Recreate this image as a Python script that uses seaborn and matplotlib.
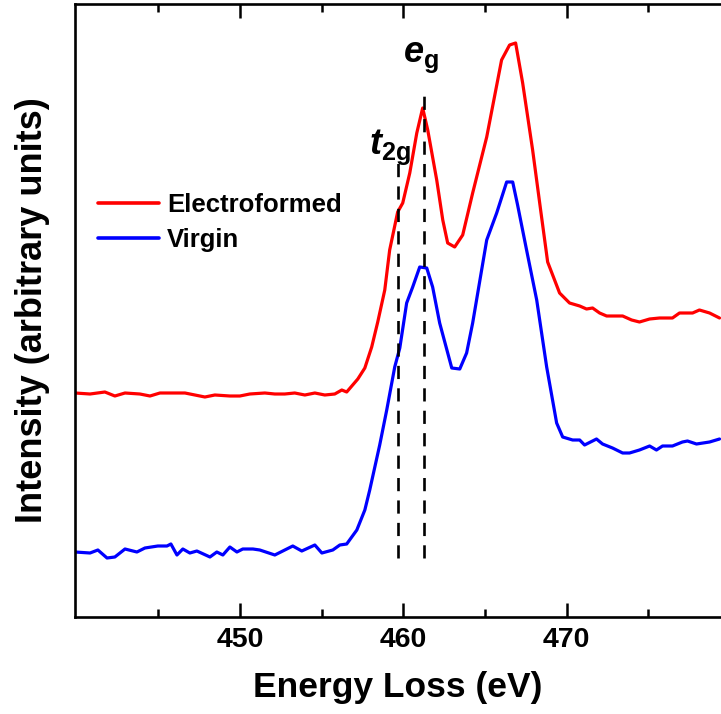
import numpy as np
import pandas as pd
import matplotlib
matplotlib.use("Agg")
import matplotlib.pyplot as plt
from matplotlib.lines import Line2D
from matplotlib.ticker import FixedLocator, NullFormatter
import seaborn as sns

# ---------------- data ----------------
electro_energy = [439.91, 440.83, 441.74, 442.35, 442.97, 443.88, 444.50, 445.11, 446.02, 446.64,
                  447.25, 447.86, 448.47, 449.39, 450.00, 450.61, 451.53, 452.14, 452.75, 453.36,
                  453.98, 454.59, 455.20, 455.81, 456.24, 456.54, 457.22, 457.65, 458.07, 458.44,
                  458.87, 459.17, 459.66, 459.97, 460.40, 460.83, 461.19, 461.50, 462.05, 462.42,
                  462.72, 463.15, 463.64, 464.25, 465.11, 466.02, 466.51, 466.88, 467.31, 467.92,
                  468.41, 468.84, 469.57, 470.18, 470.80, 471.22, 471.59, 472.02, 472.45, 473.43,
                  473.98, 474.46, 475.08, 475.69, 476.48, 476.91, 477.71, 478.13, 478.75, 479.36]
electro_intensity = [224, 223, 225, 221, 224, 223, 221, 224, 224, 224,
                     222, 220, 222, 221, 221, 223, 224, 223, 223, 224,
                     222, 224, 222, 223, 227, 225, 238, 249, 270, 295,
                     327, 367, 405, 414, 444, 484, 509, 487, 437, 397,
                     374, 370, 382, 424, 480, 557, 572, 574, 534, 467,
                     407, 355, 324, 314, 311, 308, 309, 304, 301, 301,
                     297, 295, 298, 299, 299, 304, 304, 307, 304, 299]

virgin_energy = [439.91, 440.83, 441.31, 441.87, 442.35, 442.97, 443.70, 444.19, 444.98, 445.54,
                 445.78, 446.15, 446.51, 446.94, 447.37, 448.17, 448.59, 448.96, 449.39, 449.82,
                 450.18, 450.80, 451.22, 452.14, 453.24, 453.79, 454.59, 455.02, 455.69, 456.12,
                 456.54, 457.16, 457.65, 457.95, 458.56, 458.99, 459.48, 459.79, 460.21, 460.58,
                 461.01, 461.44, 461.80, 462.23, 462.97, 463.46, 463.88, 464.25, 465.11, 465.72,
                 466.33, 466.70, 467.00, 467.55, 468.17, 468.78, 469.39, 469.76, 470.37, 470.80,
                 471.10, 471.83, 472.20, 472.81, 473.43, 473.85, 474.46, 475.08, 475.50, 475.87,
                 476.48, 477.09, 477.40, 477.95, 478.75, 479.36]
virgin_intensity = [65, 64, 67, 59, 60, 68, 65, 69, 71, 71,
                    73, 62, 68, 64, 66, 60, 65, 62, 70, 65,
                    68, 68, 67, 62, 71, 66, 72, 64, 67, 72,
                    73, 87, 107, 127, 172, 207, 250, 269, 314, 330,
                    350, 349, 330, 294, 249, 248, 264, 294, 377, 404,
                    435, 435, 412, 367, 317, 250, 194, 180, 177, 177,
                    172, 178, 173, 169, 164, 164, 167, 171, 167, 171,
                    171, 175, 176, 173, 175, 178]

series_names = ["Electroformed", "Virgin"]
series_colors = ["#ff0000", "#0000ff"]

marker_energies = [459.66, 461.25]          # t2g, eg
marker_tops = [457, 528]
marker_bottom = 59

x_major = [450, 460, 470]
x_minor = [445, 455, 465, 475]

# ---------------- styling ----------------
sns.set_theme(style="ticks")
plt.rcParams["font.family"] = ["Liberation Sans", "DejaVu Sans"]
plt.rcParams["font.weight"] = "bold"
plt.rcParams["text.color"] = "black"
plt.rcParams["axes.labelcolor"] = "black"
plt.rcParams["xtick.color"] = "black"
plt.rcParams["ytick.color"] = "black"
plt.rcParams["mathtext.fontset"] = "custom"
plt.rcParams["mathtext.it"] = "Liberation Sans:bold:italic"
plt.rcParams["mathtext.rm"] = "Liberation Sans:bold"
plt.rcParams["mathtext.bf"] = "Liberation Sans:bold"

df = pd.concat([
    pd.DataFrame({"energy": electro_energy, "intensity": electro_intensity, "sample": series_names[0]}),
    pd.DataFrame({"energy": virgin_energy, "intensity": virgin_intensity, "sample": series_names[1]}),
], ignore_index=True)

fig = plt.figure(figsize=(7.21, 7.14), dpi=100)
ax = fig.add_axes([75 / 721, 1 - 617 / 714, 646 / 721, 613 / 714])

sns.lineplot(data=df, x="energy", y="intensity", hue="sample",
             palette=dict(zip(series_names, series_colors)),
             sort=False, estimator=None, linewidth=2.3, ax=ax, legend=False)

for xe, top in zip(marker_energies, marker_tops):
    ax.plot([xe, xe], [marker_bottom, top], color="black", lw=1.9,
            dashes=(5, 3.5), zorder=5)

ax.set_xlim(439.91, 479.45)
ax.set_ylim(0, 613)

ax.xaxis.set_major_locator(FixedLocator(x_major))
ax.xaxis.set_minor_locator(FixedLocator(x_minor))
ax.xaxis.set_minor_formatter(NullFormatter())
ax.set_yticks([])
ax.tick_params(axis="x", which="major", direction="in", length=10, width=1.8,
               top=True, bottom=True, labelsize=20.5, pad=7, color="black",
               labelcolor="black")
ax.tick_params(axis="x", which="minor", direction="in", length=5.5, width=1.8,
               top=True, bottom=True, color="black")
for lab in ax.get_xticklabels():
    lab.set_fontweight("bold")

for side in ["left", "bottom", "top"]:
    ax.spines[side].set_linewidth(1.9)
    ax.spines[side].set_color("black")
ax.spines["right"].set_visible(False)

ax.set_xlabel("Energy Loss (eV)", fontsize=25.5, fontweight="bold", labelpad=13, color="black")
ax.set_ylabel("Intensity (arbitrary units)", fontsize=26, fontweight="bold", labelpad=18, color="black")

ax.text(459.17, 463, r"$t_{\mathrm{2g}}$", fontsize=26, ha="center", va="baseline", zorder=6)
ax.text(461.05, 555, r"$e_{\mathrm{g}}$", fontsize=26, ha="center", va="baseline", zorder=6)

handles = [Line2D([0], [0], color=c, lw=2.6) for c in series_colors]
leg = ax.legend(handles, series_names, loc="upper left", bbox_to_anchor=(0.035, 0.692),
                frameon=False, fontsize=18.5, handlelength=2.4, handletextpad=0.3,
                labelspacing=0.42, borderpad=0, borderaxespad=0)
for t in leg.get_texts():
    t.set_fontweight("bold")
    t.set_color("black")

fig.savefig("out.png", dpi=100)
